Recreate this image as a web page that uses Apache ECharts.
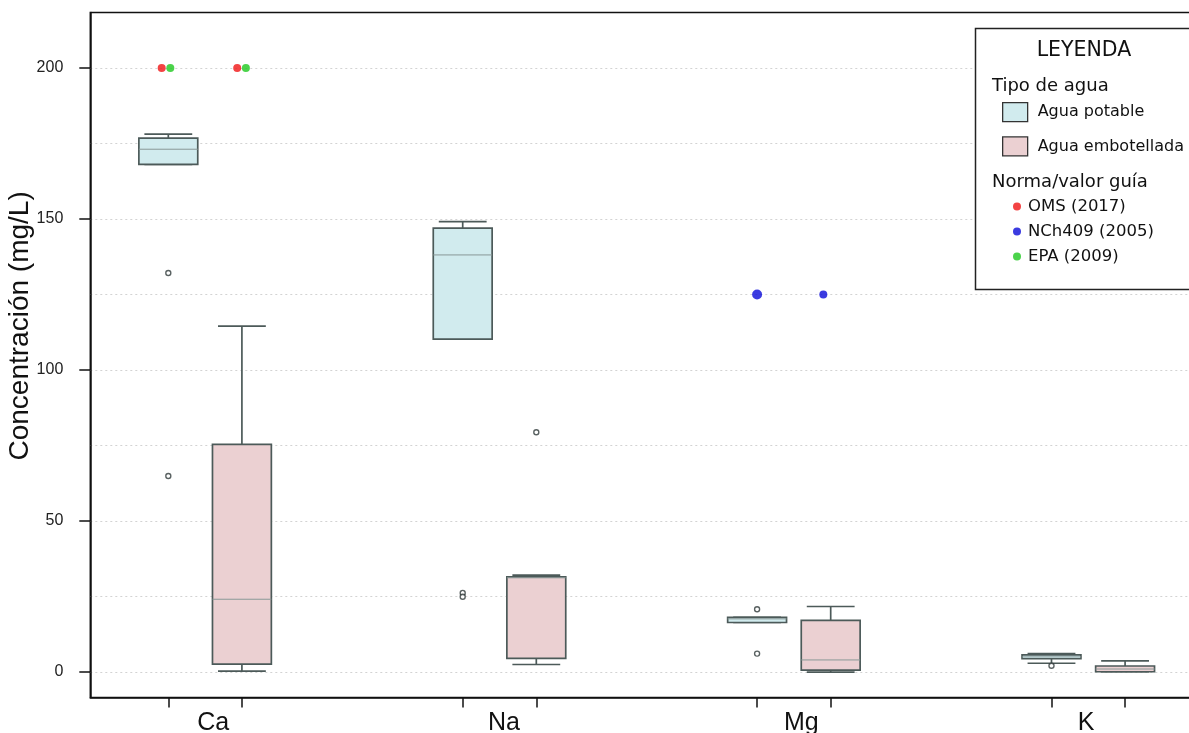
<!DOCTYPE html>
<html>
<head>
<meta charset="utf-8">
<script src="https://cdn.jsdelivr.net/npm/echarts@6/dist/echarts.min.js"></script>
<style>html,body{margin:0;padding:0;background:#fff;}#c{width:1189px;height:733px;}</style>
</head>
<body>
<div id="c"></div>
<script>
// ---- data ----
const categories = ['Ca', 'Na', 'Mg', 'K'];
const boxPositions = [1, 2, 5, 6, 9, 10, 13, 14];
const labelPositions = [1.61, 5.56, 9.6, 13.47];
const yTickValues = [0, 50, 100, 150, 200];
const yGridValues = [0, 25, 50, 75, 100, 125, 150, 175, 200];
// [position, min, Q1, median, Q3, max]
const potableBoxes = [
  [1, 168.1, 168.1, 173.1, 176.8, 178.1],
  [5, 110.2, 110.2, 138.1, 147.0, 149.1],
  [9, 16.4, 16.4, 17.6, 18.1, 18.1],
  [13, 2.9, 4.4, 5.0, 5.7, 6.1]
];
const bottledBoxes = [
  [2, 0.3, 2.6, 24.1, 75.4, 114.5],
  [6, 2.5, 4.5, 31.2, 31.5, 32.1],
  [10, 0.0, 0.6, 4.0, 17.1, 21.7],
  [14, 0.1, 0.1, 1.0, 2.0, 3.7]
];
const potableOutliers = [[1, 132.1], [1, 64.9], [5, 26.2], [5, 24.9], [9, 20.8], [9, 6.1], [13, 2.1]];
const bottledOutliers = [[6, 79.4]];
const omsPoints = [[0.91, 200], [1.936, 200]];
const nchPoints = [[9.0, 125], [9.9, 125]];
const epaPoints = [[1.027, 200], [2.054, 200]];

// ---- styles ----
const POT_FILL = '#d1ebee';
const BOT_FILL = '#ebd0d2';
const BORDER = '#4c5a59';
const MEDIAN = '#8a9897';
const AX_FONT = 'Liberation Sans, Arial, sans-serif';
const LG_FONT = 'DejaVu Sans, Verdana, sans-serif';

function makeRender(fill) {
  return function (params, api) {
    const x = api.value(0);
    const pMin = api.coord([x, api.value(1)]);
    const pQ1 = api.coord([x, api.value(2)]);
    const pMed = api.coord([x, api.value(3)]);
    const pQ3 = api.coord([x, api.value(4)]);
    const pMax = api.coord([x, api.value(5)]);
    const bw = api.size([0.8, 0])[0];
    const cw = api.size([0.65, 0])[0];
    const cx = pMed[0];
    const ls = { stroke: BORDER, lineWidth: 1.7 };
    return {
      type: 'group',
      children: [
        { type: 'line', shape: { x1: cx, y1: pQ3[1], x2: cx, y2: pMax[1] }, style: ls },
        { type: 'line', shape: { x1: cx, y1: pQ1[1], x2: cx, y2: pMin[1] }, style: ls },
        { type: 'line', shape: { x1: cx - cw / 2, y1: pMax[1], x2: cx + cw / 2, y2: pMax[1] }, style: ls },
        { type: 'line', shape: { x1: cx - cw / 2, y1: pMin[1], x2: cx + cw / 2, y2: pMin[1] }, style: ls },
        { type: 'rect', shape: { x: cx - bw / 2, y: pQ3[1], width: bw, height: Math.max(pQ1[1] - pQ3[1], 1) },
          style: { fill: fill, stroke: BORDER, lineWidth: 1.7 } },
        { type: 'line', shape: { x1: cx - bw / 2, y1: pMed[1], x2: cx + bw / 2, y2: pMed[1] },
          style: { stroke: MEDIAN, lineWidth: 1 } }
      ]
    };
  };
}

const outlierStyle = { color: '#ffffff', borderColor: '#2f3a3a', borderWidth: 1.4 };

const option = {
  animation: false,
  backgroundColor: '#ffffff',
  grid: { left: 90.3, right: -14.1, top: 12.4, bottom: 35.6, outerBoundsMode: 'none', containLabel: false,
    show: true, borderColor: '#111', borderWidth: 1.5, backgroundColor: 'transparent' },
  xAxis: [
    {
      type: 'value', min: -0.06, max: 15.06, position: 'bottom',
      axisLine: { show: true, onZero: false, lineStyle: { color: '#111', width: 1.5 } },
      axisTick: { show: true, customValues: boxPositions, length: 10, lineStyle: { color: '#111', width: 1.5 } },
      axisLabel: { show: false },
      splitLine: { show: false }
    },
    {
      type: 'value', min: -0.06, max: 15.06, position: 'bottom',
      axisLine: { show: false, onZero: false }, axisTick: { show: false }, splitLine: { show: false },
      axisLabel: {
        show: true, customValues: labelPositions, margin: 13,
        fontSize: 25, fontFamily: AX_FONT, color: '#111',
        formatter: function (v) { return categories[labelPositions.indexOf(v)]; }
      }
    }
  ],
  yAxis: [
    {
      type: 'value', min: -8.4, max: 218.4, position: 'left',
      name: 'Concentración (mg/L)', nameLocation: 'middle', nameGap: 56, nameMoveOverlap: false,
      nameTextStyle: { fontSize: 28, fontFamily: AX_FONT, color: '#111', padding: [0, 0, 0, 58] },
      axisLine: { show: true, onZero: false, lineStyle: { color: '#111', width: 1.5 } },
      axisTick: { show: true, customValues: yTickValues, length: 11, lineStyle: { color: '#111', width: 1.5 } },
      axisLabel: { show: true, customValues: yTickValues, margin: 27, fontSize: 16, fontFamily: AX_FONT, color: '#222' },
      splitLine: { show: false }
    },
    {
      type: 'value', min: -8.4, max: 218.4, position: 'left',
      axisLine: { show: false, onZero: false }, axisLabel: { show: false },
      axisTick: { show: false, customValues: yGridValues },
      splitLine: { show: true, lineStyle: { type: [2, 3], color: '#d3d3d3', width: 1.2 } }
    }
  ],
  legend: [
    {
      orient: 'vertical', left: 1002, top: 102, padding: 0, itemWidth: 25, itemHeight: 19, itemGap: 14,
      selectedMode: false, z: 6,
      textStyle: { fontSize: 16, fontFamily: LG_FONT, color: '#111', padding: [0, 0, 0, 5] },
      data: [
        { name: 'Agua potable', icon: 'rect', itemStyle: { color: POT_FILL, borderColor: '#333', borderWidth: 1.3 } },
        { name: 'Agua embotellada', icon: 'rect', itemStyle: { color: BOT_FILL, borderColor: '#333', borderWidth: 1.3 } }
      ]
    },
    {
      orient: 'vertical', left: 1013, top: 198, padding: 0, itemWidth: 8, itemHeight: 8, itemGap: 8,
      selectedMode: false, z: 6,
      textStyle: { fontSize: 16.5, fontFamily: LG_FONT, color: '#111', padding: [0, 0, 0, 2] },
      data: [
        { name: 'OMS (2017)', icon: 'circle' },
        { name: 'NCh409 (2005)', icon: 'circle' },
        { name: 'EPA (2009)', icon: 'circle' }
      ]
    }
  ],
  graphic: [
    { type: 'rect', z: 5, shape: { x: 975.5, y: 28.5, width: 260, height: 261 },
      style: { fill: '#ffffff', stroke: '#222', lineWidth: 1.5 } },
    { type: 'text', z: 6, x: 1084, y: 51, style: { text: 'LEYENDA', font: '20.5px "DejaVu Sans"', fill: '#111', textAlign: 'center', textVerticalAlign: 'middle' } },
    { type: 'text', z: 6, x: 992, y: 86, style: { text: 'Tipo de agua', font: '18px "DejaVu Sans"', fill: '#111', textAlign: 'left', textVerticalAlign: 'middle' } },
    { type: 'text', z: 6, x: 992, y: 182, style: { text: 'Norma/valor guía', font: '18px "DejaVu Sans"', fill: '#111', textAlign: 'left', textVerticalAlign: 'middle' } }
  ],
  series: [
    { name: 'Agua potable', type: 'custom', renderItem: makeRender(POT_FILL), data: potableBoxes,
      encode: { x: 0, y: [1, 2, 3, 4, 5] }, itemStyle: { color: POT_FILL }, z: 2 },
    { name: 'Agua embotellada', type: 'custom', renderItem: makeRender(BOT_FILL), data: bottledBoxes,
      encode: { x: 0, y: [1, 2, 3, 4, 5] }, itemStyle: { color: BOT_FILL }, z: 2 },
    { name: 'outliers-potable', type: 'scatter', data: potableOutliers, symbol: 'circle', symbolSize: 5, itemStyle: outlierStyle, z: 3 },
    { name: 'outliers-bottled', type: 'scatter', data: bottledOutliers, symbol: 'circle', symbolSize: 5, itemStyle: outlierStyle, z: 3 },
    { name: 'OMS (2017)', type: 'scatter', data: omsPoints, symbolSize: 8, itemStyle: { color: '#f01414' }, z: 4 },
    { name: 'NCh409 (2005)', type: 'scatter', data: nchPoints,
      symbolSize: function (v, p) { return p.dataIndex === 0 ? 10 : 8; }, itemStyle: { color: '#0a0ad8' }, z: 4 },
    { name: 'EPA (2009)', type: 'scatter', data: epaPoints, symbolSize: 8, itemStyle: { color: '#1ec81e' }, z: 4 }
  ]
};

const chart = echarts.init(document.getElementById('c'), null, { renderer: 'canvas' });
chart.setOption(option);
</script>
</body>
</html>
